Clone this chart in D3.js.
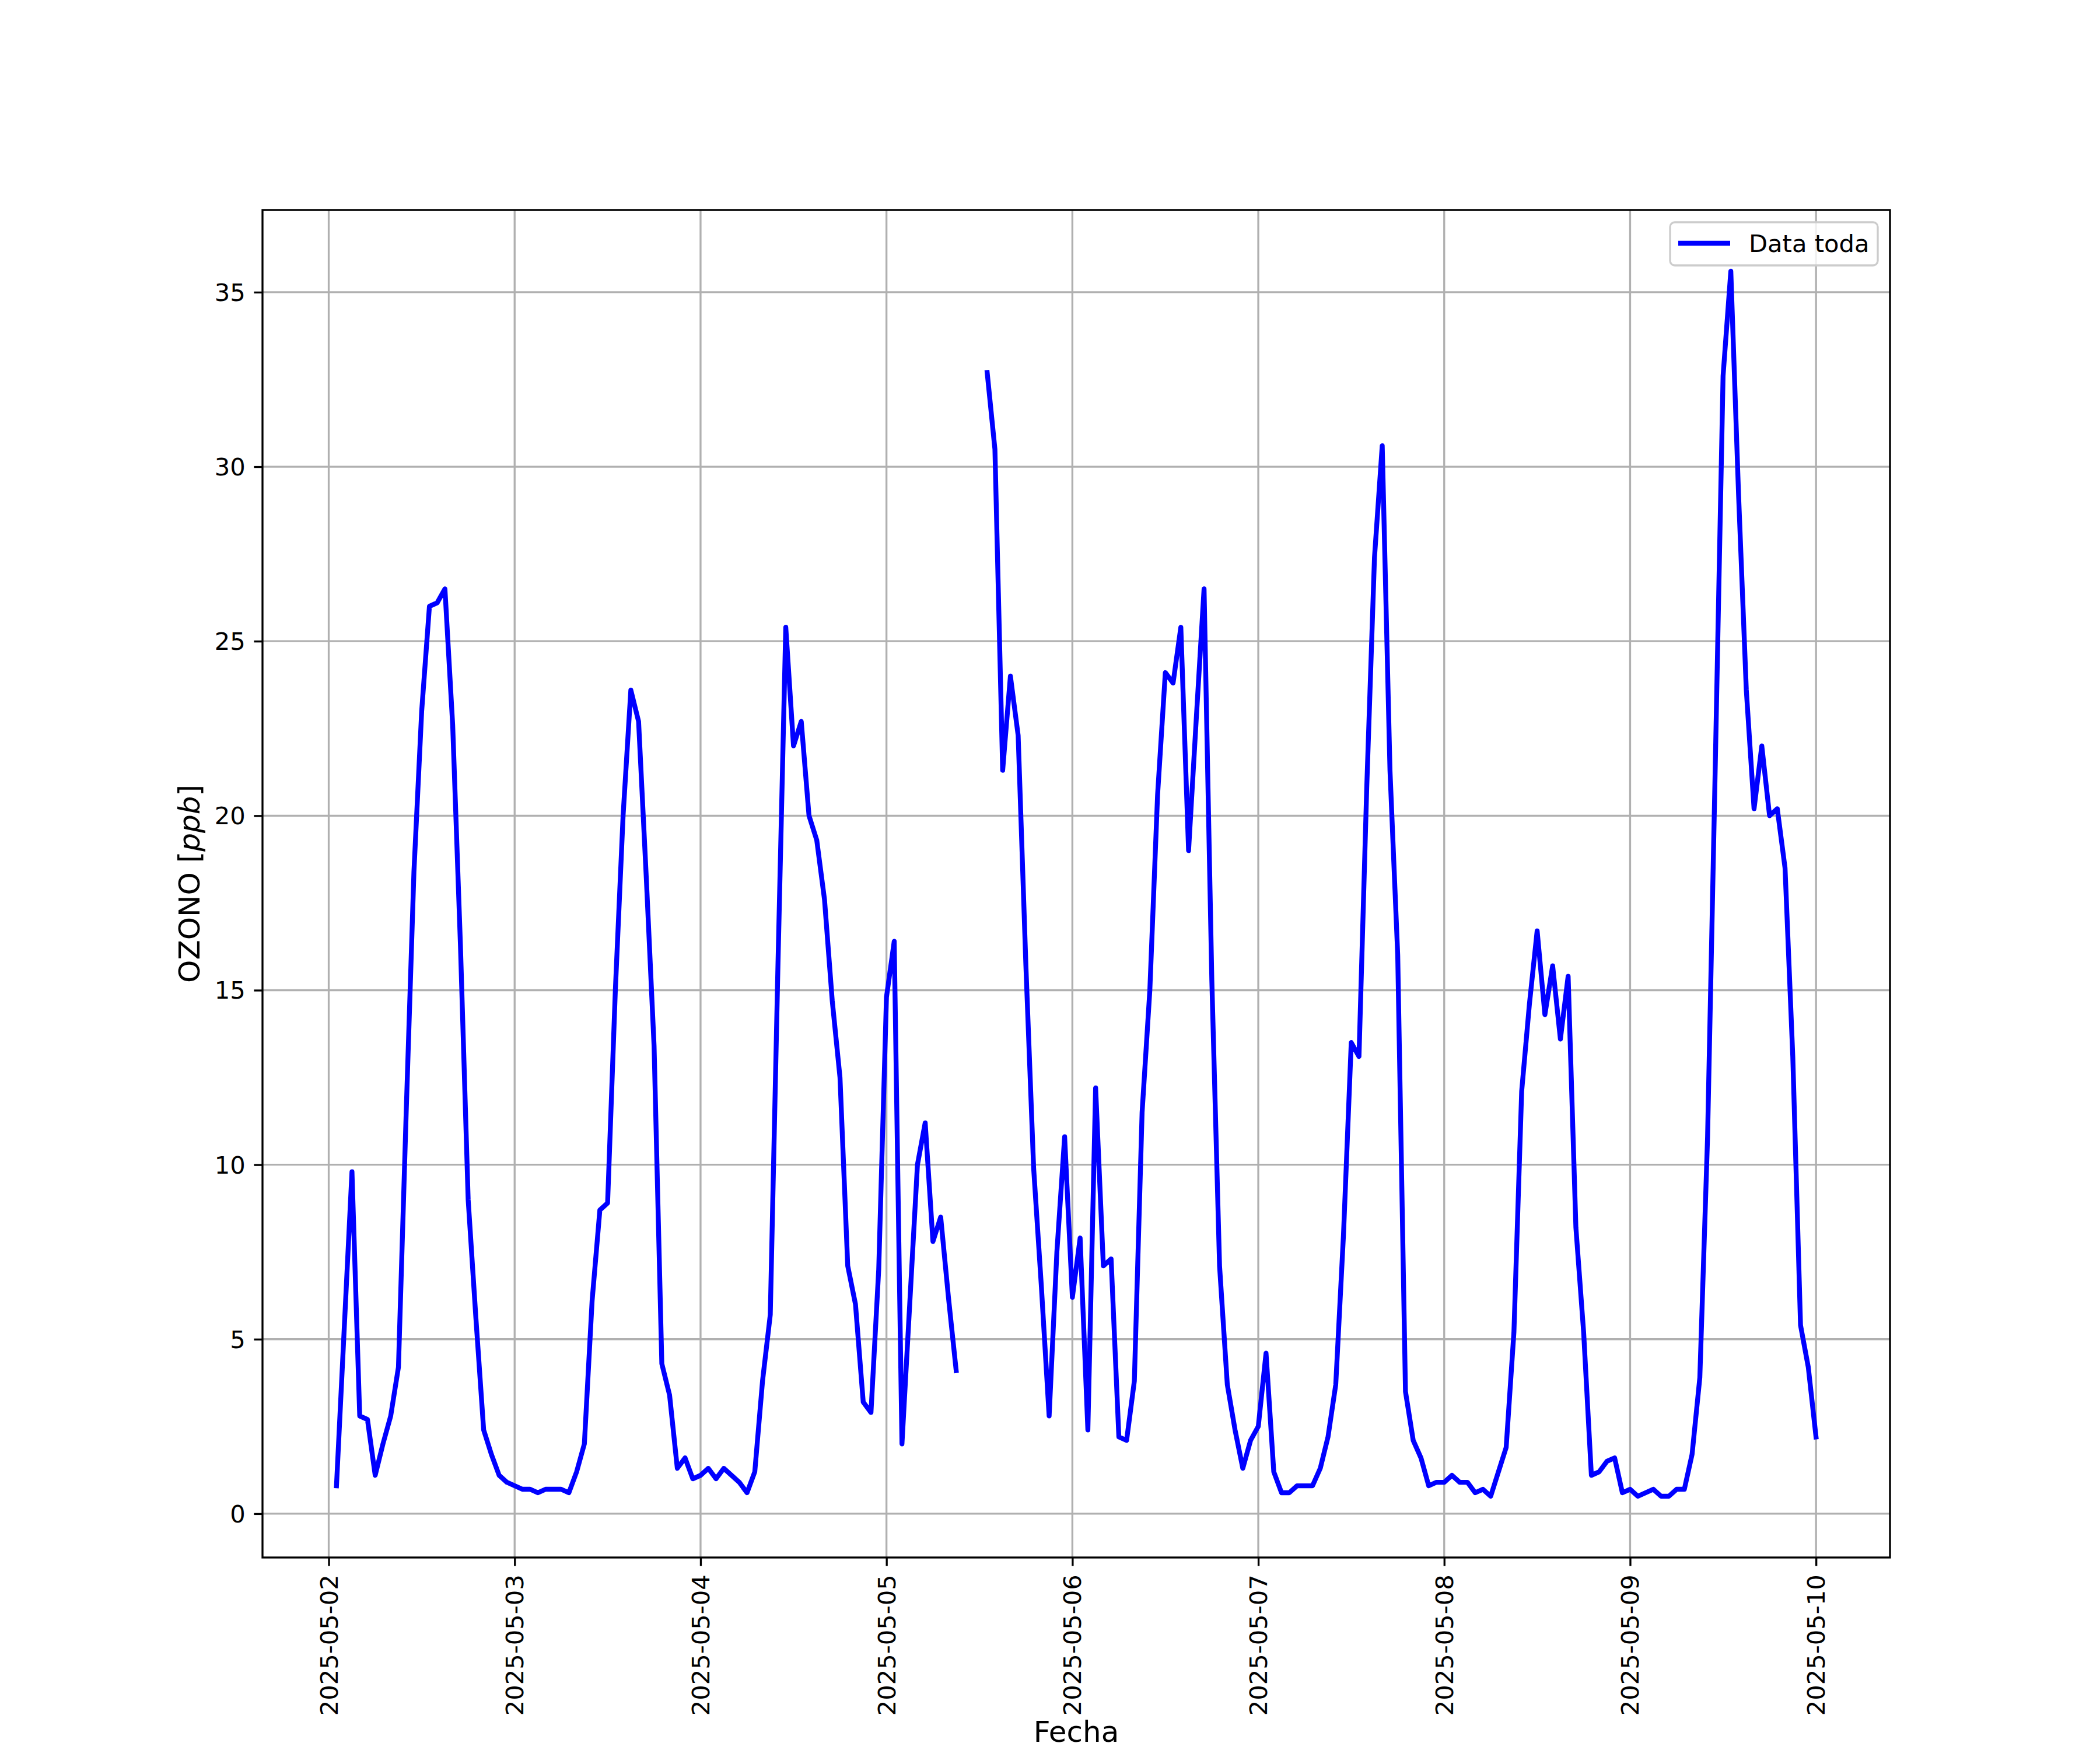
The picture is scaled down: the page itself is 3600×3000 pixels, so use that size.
<!DOCTYPE html>
<html>
<head>
<meta charset="utf-8">
<script src="https://cdn.jsdelivr.net/npm/d3@7"></script>
<style>
  html, body { margin: 0; padding: 0; background: #ffffff; }
  svg { display: block; }
  text { font-family: "DejaVu Sans", sans-serif; fill: #000; }
</style>
</head>
<body>
<svg id="chart" width="3600" height="3000"></svg>
<script>
// ---------- DATA (hourly ozone, ppb) ----------
const seriesName = "Data toda";
const xLabel = "Fecha";
const yLabelMain = "OZONO [";
const yLabelUnit = "ppb";
const startTime = "2025-05-02T01:00:00"; // first hourly reading
// 2025-05-02 01:00 .. 23:00
const day0502 = [0.8, 5.3, 9.8, 2.8, 2.7, 1.1, 2.0, 2.8, 4.2, 11.5, 18.4, 23.0, 26.0, 26.1, 26.5, 22.6, 16.3, 9.0, 5.6, 2.4, 1.7, 1.1, 0.9];
// 2025-05-03 00:00 .. 23:00
const day0503 = [0.8, 0.7, 0.7, 0.6, 0.7, 0.7, 0.7, 0.6, 1.2, 2.0, 6.1, 8.7, 8.9, 15.0, 20.0, 23.6, 22.7, 18.2, 13.4, 4.3, 3.4, 1.3, 1.6, 1.0];
const day0504 = [1.1, 1.3, 1.0, 1.3, 1.1, 0.9, 0.6, 1.2, 3.8, 5.7, 15.8, 25.4, 22.0, 22.7, 20.0, 19.3, 17.6, 14.7, 12.5, 7.1, 6.0, 3.2, 2.9, 7.0];
const day0505 = [14.8, 16.4, 2.0, 6.0, 10.0, 11.2, 7.8, 8.5, 6.2, 4.1, null, null, null, 32.7, 30.5, 21.3, 24.0, 22.3, 15.7, 9.9, 6.5, 2.8, 7.5, 10.8];
const day0506 = [6.2, 7.9, 2.4, 12.2, 7.1, 7.3, 2.2, 2.1, 3.8, 11.5, 15.0, 20.6, 24.1, 23.8, 25.4, 19.0, 22.8, 26.5, 15.3, 7.1, 3.7, 2.4, 1.3, 2.1];
const day0507 = [2.5, 4.6, 1.2, 0.6, 0.6, 0.8, 0.8, 0.8, 1.3, 2.2, 3.7, 8.0, 13.5, 13.1, 20.8, 27.4, 30.6, 21.3, 16.0, 3.5, 2.1, 1.6, 0.8, 0.9];
const day0508 = [0.9, 1.1, 0.9, 0.9, 0.6, 0.7, 0.5, 1.2, 1.9, 5.2, 12.1, 14.6, 16.7, 14.3, 15.7, 13.6, 15.4, 8.2, 5.2, 1.1, 1.2, 1.5, 1.6, 0.6];
const day0509 = [0.7, 0.5, 0.6, 0.7, 0.5, 0.5, 0.7, 0.7, 1.7, 3.9, 10.8, 21.5, 32.6, 35.6, 29.2, 23.6, 20.2, 22.0, 20.0, 20.2, 18.5, 13.1, 5.4, 4.2];
// 2025-05-10 00:00
const day0510 = [2.2];
const xTickDates = ["2025-05-02", "2025-05-03", "2025-05-04", "2025-05-05", "2025-05-06", "2025-05-07", "2025-05-08", "2025-05-09", "2025-05-10"];
const yTickValues = [0, 5, 10, 15, 20, 25, 30, 35];

// ---------- BUILD ----------
const allValues = [].concat(day0502, day0503, day0504, day0505, day0506, day0507, day0508, day0509, day0510);
const t0 = new Date(startTime);
const data = allValues.map((v, i) => ({ t: new Date(t0.getTime() + i * 3600 * 1000), v: v }));

const W = 3600, H = 3000;
const plot = { left: 450, right: 3240, top: 360, bottom: 2670 };
const pt = 300 / 72; // px per point

const svg = d3.select("#chart");
svg.append("rect").attr("width", W).attr("height", H).attr("fill", "#fff");

// matplotlib-like 5% margins
const tExt = d3.extent(data, d => d.t);
const tPad = (tExt[1] - tExt[0]) * 0.05;
const vals = data.filter(d => d.v != null).map(d => d.v);
const vExt = d3.extent(vals);
const vPad = (vExt[1] - vExt[0]) * 0.05;

const x = d3.scaleTime()
  .domain([new Date(+tExt[0] - tPad), new Date(+tExt[1] + tPad)])
  .range([plot.left, plot.right]);
const y = d3.scaleLinear()
  .domain([vExt[0] - vPad, vExt[1] + vPad])
  .range([plot.bottom, plot.top]);

const xTicks = xTickDates.map(s => new Date(s + "T00:00:00"));
const fmt = d3.timeFormat("%Y-%m-%d");

// grid
const grid = svg.append("g");
grid.selectAll("line.gx").data(xTicks).enter().append("line")
  .attr("x1", d => x(d)).attr("x2", d => x(d))
  .attr("y1", plot.top).attr("y2", plot.bottom)
  .attr("stroke", "#b0b0b0").attr("stroke-width", 0.8 * pt);
grid.selectAll("line.gy").data(yTickValues).enter().append("line")
  .attr("x1", plot.left).attr("x2", plot.right)
  .attr("y1", d => y(d)).attr("y2", d => y(d))
  .attr("stroke", "#b0b0b0").attr("stroke-width", 0.8 * pt);

// clip
svg.append("clipPath").attr("id", "clip").append("rect")
  .attr("x", plot.left).attr("y", plot.top)
  .attr("width", plot.right - plot.left).attr("height", plot.bottom - plot.top);

// line
const line = d3.line()
  .defined(d => d.v != null)
  .x(d => x(d.t)).y(d => y(d.v));
svg.append("path")
  .datum(data)
  .attr("clip-path", "url(#clip)")
  .attr("d", line)
  .attr("fill", "none")
  .attr("stroke", "#0000ff")
  .attr("stroke-width", 2 * pt)
  .attr("stroke-linejoin", "round")
  .attr("stroke-linecap", "square");

// axes
const tickLen = 3.5 * pt, tickPad = 3.5 * pt;
const xAxis = d3.axisBottom(x).tickValues(xTicks).tickFormat(fmt)
  .tickSizeInner(tickLen).tickSizeOuter(0).tickPadding(tickPad);
const yAxis = d3.axisLeft(y).tickValues(yTickValues).tickFormat(d3.format("d"))
  .tickSizeInner(tickLen).tickSizeOuter(0).tickPadding(tickPad);

const gx = svg.append("g").attr("transform", `translate(0,${plot.bottom})`).call(xAxis);
const gy = svg.append("g").attr("transform", `translate(${plot.left},0)`).call(yAxis);
[gx, gy].forEach(g => {
  g.select(".domain").remove();
  g.selectAll(".tick line").attr("stroke", "#000").attr("stroke-width", 0.8 * pt);
  g.selectAll(".tick text").attr("font-family", "DejaVu Sans").attr("font-size", 10 * pt).attr("fill", "#000");
});
gx.selectAll(".tick text")
  .attr("text-anchor", "end")
  .attr("dy", null)
  .attr("y", 0)
  .attr("dominant-baseline", "central")
  .attr("transform", `translate(0,${tickLen + tickPad}) rotate(-90)`);
gy.selectAll(".tick text").attr("dy", null).attr("dominant-baseline", "central");

// spines
svg.append("rect")
  .attr("x", plot.left).attr("y", plot.top)
  .attr("width", plot.right - plot.left).attr("height", plot.bottom - plot.top)
  .attr("fill", "none").attr("stroke", "#000").attr("stroke-width", 0.8 * pt);

// axis labels
svg.append("text")
  .attr("x", (plot.left + plot.right) / 2).attr("y", 2986)
  .attr("text-anchor", "middle").attr("font-size", 12 * pt)
  .text(xLabel);
const yl = svg.append("text")
  .attr("transform", `translate(342,${(plot.top + plot.bottom) / 2}) rotate(-90)`)
  .attr("text-anchor", "middle").attr("font-size", 12 * pt);
yl.append("tspan").text(yLabelMain);
yl.append("tspan").attr("font-style", "italic").text(yLabelUnit);
yl.append("tspan").text("]");

// legend
const lg = svg.append("g");
lg.append("rect")
  .attr("x", 2863).attr("y", 381).attr("width", 356).attr("height", 74)
  .attr("rx", 8).attr("fill", "#fff").attr("fill-opacity", 0.8)
  .attr("stroke", "#cccccc").attr("stroke-width", 0.8 * pt);
lg.append("line")
  .attr("x1", 2877).attr("x2", 2966).attr("y1", 417).attr("y2", 417)
  .attr("stroke", "#0000ff").attr("stroke-width", 2 * pt);
lg.append("text")
  .attr("x", 2998).attr("y", 432).attr("font-size", 10 * pt)
  .text(seriesName);
</script>
</body>
</html>
